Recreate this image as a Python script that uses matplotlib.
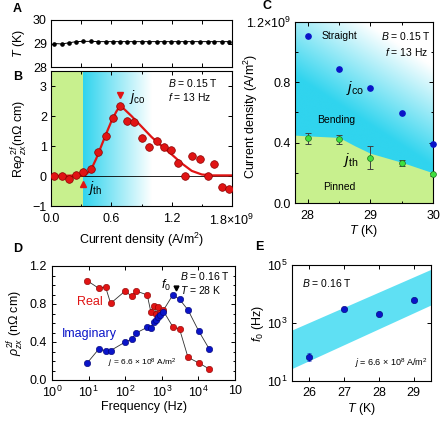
import numpy as np
import matplotlib
matplotlib.use("Agg")
import matplotlib.pyplot as plt
from matplotlib.colors import LinearSegmentedColormap
from matplotlib.ticker import MultipleLocator, NullLocator, FixedLocator, FixedFormatter

plt.rcParams['font.family'] = ['Liberation Sans', 'DejaVu Sans']
plt.rcParams['mathtext.fontset'] = 'custom'
plt.rcParams['mathtext.rm'] = 'Liberation Sans'
plt.rcParams['mathtext.it'] = 'Liberation Sans:italic'
plt.rcParams['mathtext.bf'] = 'Liberation Sans:bold'
plt.rcParams['font.size'] = 9
plt.rcParams['xtick.direction'] = 'in'
plt.rcParams['ytick.direction'] = 'in'
plt.rcParams['xtick.top'] = True
plt.rcParams['ytick.right'] = True
plt.rcParams['xtick.major.size'] = 3
plt.rcParams['ytick.major.size'] = 3
plt.rcParams['xtick.minor.size'] = 1.8
plt.rcParams['ytick.minor.size'] = 1.8
plt.rcParams['axes.linewidth'] = 0.8

# ---- data ----
# current density in 1e9 A/m^2
j_B = [0.03, 0.107, 0.18, 0.25, 0.32, 0.397, 0.47, 0.543, 0.617, 0.683, 0.757, 0.83,
       0.903, 0.977, 1.05, 1.123, 1.197, 1.267, 1.333, 1.407, 1.483, 1.557, 1.623, 1.70, 1.77]
rho_B = [0.0, 0.0, -0.1, 0.05, 0.12, 0.23, 0.81, 1.35, 1.94, 2.34, 1.85, 1.8,
         1.28, 0.98, 1.17, 0.97, 0.86, 0.45, -0.01, 0.68, 0.56, 0.01, 0.4, -0.35, -0.43]
T_A = [29.0, 28.98, 29.03, 29.08, 29.09, 29.09, 29.08, 29.08, 29.08, 29.08, 29.08, 29.08,
       29.08, 29.08, 29.08, 29.08, 29.08, 29.08, 29.08, 29.08, 29.08, 29.08, 29.08, 29.08, 29.08]
fit_j = [0.0, 0.3, 0.35, 0.4, 0.45, 0.5, 0.55, 0.6, 0.65, 0.69, 0.8, 0.9, 1.0, 1.1,
         1.2, 1.3, 1.4, 1.5, 1.6, 1.8]
fit_rho = [0.0, 0.02, 0.06, 0.22, 0.58, 1.0, 1.42, 1.82, 2.15, 2.35, 2.0, 1.65, 1.3, 1.0,
           0.72, 0.42, 0.17, 0.05, 0.02, 0.02]
jth_B = 0.32
jco_B = 0.69

T_C = [28.0, 28.5, 29.0, 29.5, 30.0]
jco_C = [1.11, 0.886, 0.762, 0.60, 0.39]
jth_C = [0.428, 0.421, 0.30, 0.266, 0.19]
jth_err = [0.037, 0.03, 0.075, 0.02, 0.012]
pin_T = [27.8, 28.0, 28.5, 28.75, 29.0, 29.5, 30.0]
pin_j = [0.45, 0.445, 0.435, 0.38, 0.33, 0.27, 0.2]

freq = [9.2, 19, 29, 40, 100, 150, 200, 400, 500, 600, 700, 800, 900, 1050, 2000,
        3050, 5200, 10200, 20000]
rho_real = [1.045, 0.965, 0.98, 0.807, 0.937, 0.88, 0.937, 0.895, 0.72, 0.78, 0.70,
            0.77, 0.71, 0.74, 0.56, 0.537, 0.238, 0.18, 0.115]
rho_imag = [0.18, 0.326, 0.31, 0.31, 0.40, 0.43, 0.495, 0.555, 0.547, 0.614, 0.63,
            0.66, 0.68, 0.72, 0.895, 0.85, 0.737, 0.515, 0.323]
f0_mark = 2150

T_E = [26, 27, 28, 29]
f0_E = [69, 3000, 2000, 6200]
f0_lo = [19, 0, 0, 0]
f0_hi = [26, 0, 0, 0]
band_T = [25.5, 29.5]
band_lo = [27, 4200]
band_hi = [575, 71000]

RED = '#e01414'
REDE = '#8a0000'
BLUE = '#0a14c8'
GREEN = '#3fe03f'
LGREEN = '#c8f08e'
CYAN = '#30d4ee'
cw = LinearSegmentedColormap.from_list('cw', [CYAN, 'white'])

W, H = 440, 421
fig = plt.figure(figsize=(4.4, 4.21), dpi=100)


def box(l, t, r, b):
    return [l / W, 1 - b / H, (r - l) / W, (b - t) / H]


axA = fig.add_axes(box(51, 20, 232, 67))
axB = fig.add_axes(box(51, 71, 232, 206))
axC = fig.add_axes(box(295, 22, 433, 203))
axD = fig.add_axes(box(52, 266, 235, 380))
axE = fig.add_axes(box(292, 265, 431, 381))

# ---- A ----
axA.plot(j_B, T_A, '-o', color='black', ms=2.3, lw=0.7)
axA.set_xlim(0, 1.8)
axA.set_ylim(28, 30)
axA.set_yticks([28, 29, 30])
axA.xaxis.set_major_locator(MultipleLocator(0.3))
axA.tick_params(labelbottom=False)
axA.set_ylabel('$T$ (K)', labelpad=4)

# ---- B ----
axB.axvspan(0, jth_B, color=LGREEN, lw=0, zorder=0)
axB.imshow(np.linspace(0, 1, 256)[None, :], cmap=cw, aspect='auto',
           extent=(jth_B, 1.0, -1, 3.5), zorder=0)
axB.axhline(0, color='black', lw=0.6, zorder=1)
axB.plot(fit_j, fit_rho, color=RED, lw=1.6, zorder=2)
axB.plot(j_B, rho_B, 'o', color=RED, mec=REDE, mew=0.5, ms=5.5, zorder=3)
axB.plot([jco_B], [2.7], 'v', color=RED, ms=5, zorder=3)
axB.plot([jth_B], [-0.27], '^', color=RED, ms=5, zorder=3)
axB.text(jco_B + 0.09, 2.62, r'$j_{\rm co}$', fontsize=10, va='center')
axB.text(jth_B + 0.05, -0.4, r'$j_{\rm th}$', fontsize=10, va='center')
axB.text(1.16, 3.3, '$B$ = 0.15 T\n$f$ = 13 Hz', fontsize=7.5, va='top', linespacing=1.2)
axB.set_xlim(0, 1.8)
axB.set_ylim(-1, 3.5)
axB.set_xticks([0, 0.6, 1.2, 1.8])
axB.set_xticklabels(['0.0', '0.6', '1.2', r'1.8$\times$10$^9$'])
axB.xaxis.set_minor_locator(MultipleLocator(0.3))
axB.set_yticks([-1, 0, 1, 2, 3])
axB.set_yticklabels(['\u22121', '0', '1', '2', '3'])
axB.set_xlabel('Current density (A/m$^2$)', labelpad=2)
axB.set_ylabel(r'Re$\rho^{2f}_{zx}$(n$\Omega$ cm)', labelpad=2)

# ---- C ----
uu, vv = np.meshgrid(np.linspace(0, 1, 300), np.linspace(0, 1, 300))
dd = np.clip((vv + 0.5 * uu - 0.7) / 0.55, 0, 1)
axC.imshow(dd, cmap=cw, origin='lower', aspect='auto',
           extent=(27.8, 30.0, 0, 1.2), zorder=0)
axC.fill_between(pin_T, 0, pin_j, color=LGREEN, lw=0, zorder=1)
axC.errorbar(T_C, jth_C, yerr=jth_err, fmt='none', ecolor='#404040',
             elinewidth=0.7, capsize=2, capthick=0.7, zorder=3)
axC.plot(T_C, jth_C, 'o', mfc=GREEN, mec='#207020', mew=0.5, ms=4.2, zorder=4, clip_on=False)
axC.plot(T_C, jco_C, 'o', color=BLUE, ms=3.8, zorder=4, clip_on=False)
axC.text(28.23, 1.105, 'Straight', fontsize=7.5, va='center')
axC.text(29.97, 1.105, '$B$ = 0.15 T', fontsize=7.5, va='center', ha='right')
axC.text(29.93, 1.0, '$f$ = 13 Hz', fontsize=7.5, va='center', ha='right')
axC.text(28.76, 0.76, r'$j_{\rm co}$', fontsize=11, va='center', ha='center')
axC.text(28.45, 0.55, 'Bending', fontsize=7.5, va='center', ha='center')
axC.text(28.68, 0.285, r'$j_{\rm th}$', fontsize=11, va='center', ha='center')
axC.text(28.5, 0.106, 'Pinned', fontsize=7.5, va='center', ha='center')
axC.set_xlim(27.8, 30.0)
axC.set_ylim(0, 1.2)
axC.set_xticks([28, 29, 30])
axC.xaxis.set_minor_locator(MultipleLocator(0.5))
axC.set_yticks([0, 0.4, 0.8, 1.2])
axC.set_yticklabels(['0.0', '0.4', '0.8', r'1.2$\times$10$^9$'])
axC.yaxis.set_minor_locator(MultipleLocator(0.2))
axC.set_xlabel('$T$ (K)', labelpad=1)
axC.set_ylabel('Current density (A/m$^2$)')
axC.yaxis.set_label_coords(-0.255, 0.48)

# ---- D ----
axD.plot(freq, rho_real, '-', color='#303030', lw=0.6, zorder=2)
axD.plot(freq, rho_imag, '-', color='#303030', lw=0.6, zorder=2)
axD.plot(freq, rho_real, 'o', color=RED, mec=REDE, mew=0.4, ms=4.6, zorder=3)
axD.plot(freq, rho_imag, 'o', color=BLUE, mec='#000070', mew=0.4, ms=4.6, zorder=3)
axD.plot([f0_mark * 1.15], [0.965], 'v', color='black', ms=3.5)
axD.text(f0_mark * 0.85, 1.0, '$f_0$', fontsize=9, ha='right', va='center')
axD.text(3150, 1.095, '$B$ = 0.16 T', fontsize=7.5, va='center')
axD.text(3150, 0.947, '$T$ = 28 K', fontsize=7.5, va='center')
axD.text(10.5, 0.82, 'Real', color=RED, fontsize=9, ha='center', va='center')
axD.text(10.5, 0.48, 'Imaginary', color=BLUE, fontsize=9, ha='center', va='center')
axD.text(290, 0.18, r'$j$ = 6.6 $\times$ 10$^8$ A/m$^2$', fontsize=6, ha='center', va='center')
axD.set_xscale('log')
axD.set_xlim(1, 1e5)
axD.set_ylim(0, 1.2)
axD.xaxis.set_major_locator(FixedLocator([1, 10, 100, 1e3, 1e4, 1e5]))
axD.xaxis.set_major_formatter(FixedFormatter(['10$^0$', '10$^1$', '10$^2$', '10$^3$',
                                              '10$^4$', '10']))
axD.set_yticks([0, 0.4, 0.8, 1.2])
axD.set_yticklabels(['0.0', '0.4', '0.8', '1.2'])
axD.yaxis.set_minor_locator(MultipleLocator(0.1))
axD.set_xlabel('Frequency (Hz)', labelpad=1)
axD.set_ylabel(r'$\rho^{2f}_{zx}$ (n$\Omega$ cm)', labelpad=2)

# ---- E ----
axE.fill_between(band_T, band_lo, band_hi, color='#5fe0f3', lw=0, zorder=0)
axE.errorbar(T_E, f0_E, yerr=[f0_lo, f0_hi], fmt='o', color=BLUE, mec='#000070',
             mew=0.4, ms=4.6, elinewidth=0.7, capsize=1.5, zorder=3)
axE.text(25.79, 2.4e4, '$B$ = 0.16 T', fontsize=7.5, va='center')
axE.text(29.4, 42, r'$j$ = 6.6 $\times$ 10$^8$ A/m$^2$', fontsize=6.5, ha='right', va='center')
axE.set_yscale('log')
axE.set_xlim(25.5, 29.5)
axE.set_ylim(10, 1e5)
axE.set_xticks([26, 27, 28, 29])
axE.yaxis.set_minor_locator(NullLocator())
axE.set_xlabel('$T$ (K)', labelpad=2)
axE.set_ylabel('$f_0$ (Hz)', labelpad=1)

for ax in (axA, axB, axC, axD, axE):
    ax.tick_params(which='both', width=0.7, labelsize=9)
    ax.tick_params(axis='y', pad=3)
axB.tick_params(axis='x', pad=5)
axC.tick_params(axis='x', pad=5)
axD.tick_params(axis='x', pad=3.5)
axD.tick_params(axis='y', pad=4)
axE.tick_params(axis='x', pad=4)

for lab, x, y in [('A', 13, 3), ('B', 13, 71), ('C', 262, 0), ('D', 13, 243), ('E', 255, 241)]:
    fig.text(x / W, 1 - y / H, lab, fontsize=9, fontweight='bold', va='top')

fig.savefig('out.png', dpi=100)
